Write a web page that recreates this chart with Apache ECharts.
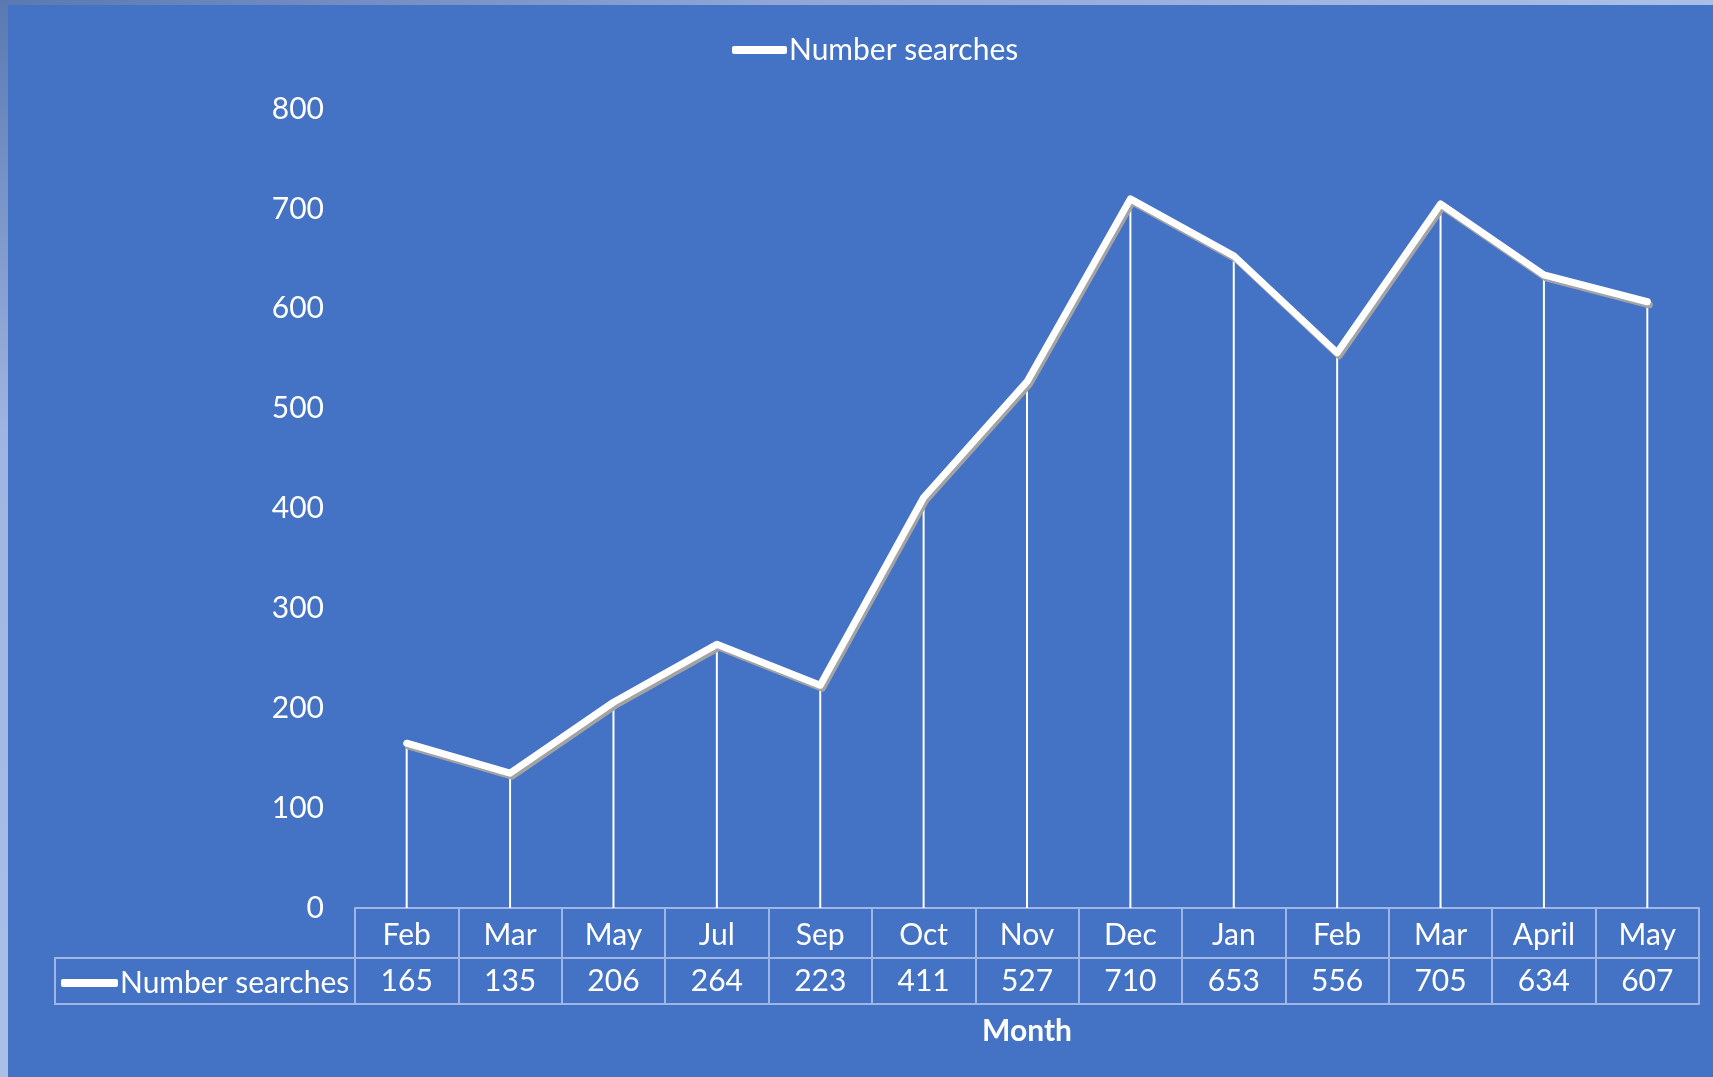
<!DOCTYPE html>
<html>
<head>
<meta charset="utf-8">
<script src="https://cdn.jsdelivr.net/npm/echarts@6/dist/echarts.min.js"></script>
<style>
html,body{margin:0;padding:0;background:#4472C4;}
#chart{width:1713px;height:1077px;}
</style>
</head>
<body>
<div id="chart"></div>
<script>
const months = ['Feb','Mar','May','Jul','Sep','Oct','Nov','Dec','Jan','Feb','Mar','April','May'];
const searches = [165,135,206,264,223,411,527,710,653,556,705,634,607];
const yTicks = [0,100,200,300,400,500,600,700,800];
const seriesName = 'Number searches';
const axisTitle = 'Month';

const FONT = 'Lato';
const FS = 30;
const BORDER = '#9fb5e3';

const chart = echarts.init(document.getElementById('chart'), null, {renderer:'canvas'});
chart.setOption({
  backgroundColor: '#4472C4',
  animation: false,
  textStyle: {fontFamily: FONT},
  grid: {left: 355, right: 14, top: 109, bottom: 1077-908},
  legend: [{
    data: [seriesName],
    left: 727, top: 30,
    icon: 'roundRect', itemWidth: 55, itemHeight: 8,
    itemStyle: {color: '#ffffff', borderWidth: 0},
    textStyle: {color: '#ffffff', fontSize: FS, fontFamily: FONT, padding: [0,0,0,-3]}
  },{
    data: [seriesName],
    left: 56, top: 963,
    icon: 'roundRect', itemWidth: 57, itemHeight: 8,
    itemStyle: {color: '#ffffff', borderWidth: 0},
    textStyle: {color: '#ffffff', fontSize: FS, fontFamily: FONT, padding: [0,0,0,-3]}
  }],
  xAxis: [{
    type: 'category', data: months, position: 'bottom', boundaryGap: true,
    axisLine: {show: true, lineStyle: {color: BORDER, width: 2}},
    axisTick: {show: true, interval: 0, length: 50, lineStyle: {color: BORDER, width: 2}},
    axisLabel: {interval: 0, color: '#ffffff', fontSize: FS, fontFamily: FONT, margin: 12},
    name: axisTitle, nameLocation: 'middle', nameGap: 108,
    nameTextStyle: {color: '#ffffff', fontSize: FS, fontWeight: 'bold', fontFamily: FONT},
    splitLine: {show: false}
  },{
    type: 'category', data: months, position: 'bottom', offset: 50, boundaryGap: true,
    axisLine: {show: true, lineStyle: {color: BORDER, width: 2}},
    axisTick: {show: true, interval: 0, length: 46, lineStyle: {color: BORDER, width: 2}},
    axisLabel: {interval: 0, color: '#ffffff', fontSize: FS, fontFamily: FONT, margin: 8,
      formatter: function(v, i){ return String(searches[i]); }},
    splitLine: {show: false}
  },{
    type: 'category', data: months, position: 'bottom', offset: 96, boundaryGap: true,
    axisLine: {show: true, lineStyle: {color: BORDER, width: 2}},
    axisTick: {show: false}, axisLabel: {show: false}, splitLine: {show: false}
  }],
  yAxis: {
    type: 'value', min: yTicks[0], max: yTicks[yTicks.length-1], interval: yTicks[1]-yTicks[0],
    axisLine: {show: false}, axisTick: {show: false}, splitLine: {show: false},
    axisLabel: {color: '#ffffff', fontSize: FS, fontFamily: FONT, margin: 31, padding: [8,0,0,0]}
  },
  series: [{
    name: 'drop', type: 'bar', data: searches, barWidth: 2, xAxisIndex: 0,
    itemStyle: {color: '#ffffff'}, z: 1, silent: true
  },{
    name: seriesName, type: 'line', data: searches, xAxisIndex: 0,
    symbol: 'none', z: 3,
    lineStyle: {color: '#ffffff', width: 7, cap: 'round', join: 'round',
      shadowColor: '#a3a3a3', shadowBlur: 0, shadowOffsetX: 2, shadowOffsetY: 3},
    itemStyle: {color: '#ffffff'}
  }],
  graphic: [{
    type: 'rect', shape: {x: 55, y: 958, width: 300, height: 46},
    style: {fill: 'none', stroke: BORDER, lineWidth: 2}, z: -1
  },{
    type: 'rect', shape: {x: 0, y: 0, width: 1713, height: 5},
    style: {fill: new echarts.graphic.LinearGradient(0,0,1,0,[{offset:0,color:'#5a79b2'},{offset:0.45,color:'#8fa6d6'},{offset:1,color:'#abbfe6'}])}
  },{
    type: 'rect', shape: {x: 0, y: 0, width: 8, height: 1077},
    style: {fill: new echarts.graphic.LinearGradient(0,0,0,1,[{offset:0,color:'#5a79b2'},{offset:0.4,color:'#9fb4e0'},{offset:1,color:'#abbfe6'}])}
  }]
});
</script>
</body>
</html>
